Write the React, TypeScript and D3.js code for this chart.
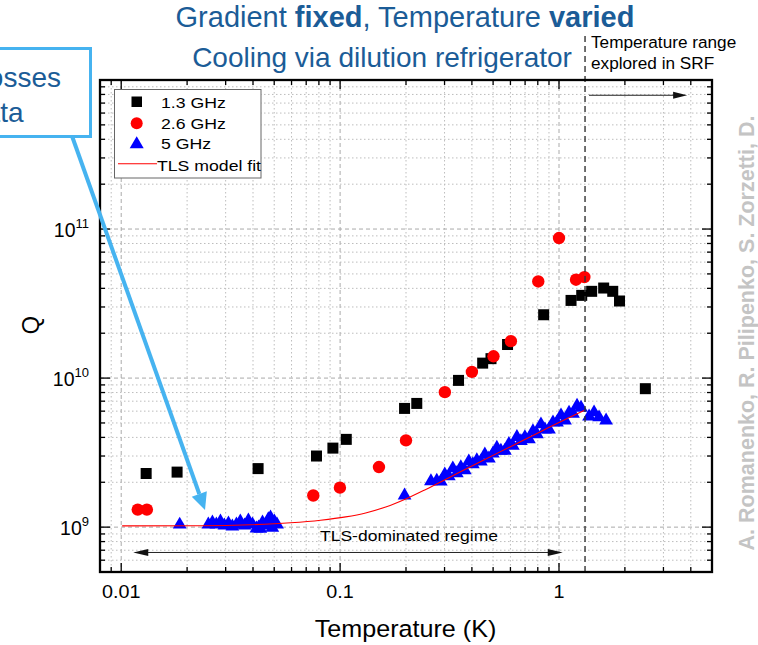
import React from 'react';
import * as d3 from 'd3';

const W = 758;
const H = 645;

// ---- data (Temperature in K, Q) ----
const series13GHz: [number, number][] = [
  [0.013, 2.29e9], [0.018, 2.34e9], [0.0422, 2.47e9], [0.078, 3.0e9], [0.0927, 3.39e9],
  [0.1067, 3.88e9], [0.197, 6.26e9], [0.224, 6.76e9], [0.3475, 9.65e9], [0.448, 1.26e10],
  [0.489, 1.35e10], [0.582, 1.68e10], [0.851, 2.66e10], [1.135, 3.32e10], [1.27, 3.59e10],
  [1.41, 3.82e10], [1.6, 4.02e10], [1.76, 3.82e10], [1.89, 3.29e10], [2.48, 8.49e9],
];

const series26GHz: [number, number][] = [
  [0.0119, 1.31e9], [0.0131, 1.31e9], [0.0754, 1.63e9], [0.0998, 1.84e9], [0.1505, 2.53e9],
  [0.2, 3.82e9], [0.301, 8.05e9], [0.4, 1.1e10], [0.502, 1.4e10], [0.603, 1.77e10],
  [0.804, 4.45e10], [1.0, 8.7e10], [1.196, 4.57e10], [1.306, 4.76e10],
];

const series5GHz: [number, number][] = [
  [0.0185, 1.04e9],
  [0.025, 1.043e9], [0.0261, 1.075e9], [0.0272, 1.043e9], [0.0284, 1.092e9], [0.0296, 1.027e9],
  [0.0309, 1.059e9], [0.0322, 1.011e9], [0.0336, 1.043e9], [0.035, 1.092e9], [0.0366, 1.027e9],
  [0.0381, 1.109e9], [0.0398, 1.043e9], [0.0415, 0.98e9], [0.0424, 0.995e9], [0.0432, 0.975e9],
  [0.0442, 1.075e9], [0.0461, 1.027e9], [0.047, 1.13e9], [0.0481, 1.162e9], [0.049, 0.99e9],
  [0.0501, 1.092e9], [0.0515, 1.043e9],
  [0.197, 1.632e9], [0.26, 2.03e9],
  [0.2764, 2.048e9], [0.2884, 2.02e9], [0.3008, 2.254e9], [0.3138, 2.19e9], [0.3273, 2.48e9],
  [0.3413, 2.297e9], [0.356, 2.52e9], [0.3713, 2.405e9], [0.3873, 2.764e9], [0.404, 2.64e9],
  [0.4213, 2.808e9], [0.4395, 2.76e9], [0.4584, 3.07e9], [0.4781, 2.886e9], [0.4987, 3.113e9],
  [0.5201, 3.41e9], [0.5426, 3.257e9], [0.5659, 3.252e9], [0.5903, 3.617e9], [0.6157, 3.508e9],
  [0.6422, 4.024e9], [0.6698, 3.777e9], [0.6986, 4.018e9], [0.7287, 3.89e9], [0.7603, 4.395e9],
  [0.7929, 4.196e9], [0.8271, 4.89e9], [0.8627, 4.525e9], [0.8998, 4.525e9], [0.9387, 5.043e9],
  [0.979, 5.04e9], [1.0214, 5.62e9], [1.0653, 5.193e9], [1.1112, 5.87e9], [1.1589, 5.77e9],
  [1.2088, 6.53e9], [1.261, 6.32e9], [1.372, 5.53e9], [1.446, 5.89e9], [1.524, 5.45e9],
  [1.641, 5.2e9],
];

const tlsFit: [number, number][] = [
  [0.0101, 1.019e9], [0.023, 1.022e9], [0.03894, 1.038e9], [0.05935, 1.07e9], [0.08143, 1.113e9],
  [0.106, 1.171e9], [0.1308, 1.245e9], [0.1616, 1.366e9], [0.1994, 1.546e9], [0.2462, 1.791e9],
  [0.3204, 2.18e9], [0.4395, 2.76e9], [0.603, 3.48e9], [0.8271, 4.388e9], [1.0214, 5.122e9],
  [1.3014, 6.07e9],
];

const xTickLabels: [number, string][] = [[0.01, '0.01'], [0.1, '0.1'], [1, '1']];
const yTickLabels: [number, string][] = [[1e9, '9'], [1e10, '10'], [1e11, '11']];
const legendItems = ['1.3 GHz', '2.6 GHz', '5 GHz', 'TLS model fit'];

// annotation anchors (data coords)
const srfTemperature = 1.315;
const srfArrowEnd = 3.85;
const srfArrowQ = 7.9e11;
const regimeStart = 0.01135;
const regimeEnd = 1.04;
const regimeQ = 6.76e8;

const FONT = '"Liberation Sans", Arial, Helvetica, sans-serif';
const TITLE_BLUE = '#1b5c97';
const CALLOUT_BLUE = '#46b3f0';

function SText(props: {
  x: number; y: number; size: number; sx?: number; anchor?: string; fill?: string; weight?: string | number;
  children: React.ReactNode;
}) {
  const { x, y, size, sx = 1.13, anchor = 'start', fill = '#000', weight = 'normal', children } = props;
  return (
    <text
      transform={`translate(${x},${y}) scale(${sx},1)`}
      fontSize={size}
      textAnchor={anchor as any}
      fill={fill}
      fontWeight={weight as any}
      fontFamily={FONT}
    >
      {children}
    </text>
  );
}

export default function App() {
  const x = d3.scaleLog().domain([0.008, 5]).range([100, 712]);
  const y = d3.scaleLog().domain([5e8, 1e12]).range([572, 80]);
  const [x0, x1] = x.range();
  const [yb, yt] = y.range();

  const xGrid: { v: number; major: boolean }[] = [];
  for (let e = -3; e <= 0; e++) {
    for (let k = 1; k <= 9; k++) {
      const v = +`${k}e${e}`;
      if (v > 0.008 * 1.001 && v < 5 * 0.999) xGrid.push({ v, major: k === 1 });
    }
  }
  const yGrid: { v: number; major: boolean }[] = [];
  for (let e = 8; e <= 11; e++) {
    for (let k = 1; k <= 9; k++) {
      const v = +`${k}e${e}`;
      if (v > 5e8 * 1.001 && v < 1e12 * 0.999) yGrid.push({ v, major: k === 1 });
    }
  }

  const fitPath = d3
    .line<[number, number]>()
    .x((d) => x(d[0]))
    .y((d) => y(d[1]))
    .curve(d3.curveMonotoneX)(tlsFit) as string;

  const tri = d3.symbol().type(d3.symbolTriangle).size(82)() as string;
  const triLegend = d3.symbol().type(d3.symbolTriangle).size(85)() as string;

  // annotation geometry
  const vx = x(srfTemperature);
  const srfY = y(srfArrowQ);
  const srfX0 = vx + 4;
  const srfX1 = x(srfArrowEnd);
  const rY = y(regimeQ);
  const rX0 = x(regimeStart);
  const rX1 = x(regimeEnd);

  // callout arrow
  const cA = { x: 72, y: 136 };
  const cB = { x: 205, y: 510 };
  const ang = Math.atan2(cB.y - cA.y, cB.x - cA.x);
  const headL = 17;
  const headW = 8;
  const bx = cB.x - headL * Math.cos(ang);
  const by = cB.y - headL * Math.sin(ang);
  const px = -Math.sin(ang) * headW;
  const py = Math.cos(ang) * headW;

  return (
    <div style={{ position: 'absolute', left: 0, top: 0, width: W, height: H }}>
      <svg width={W} height={H} viewBox={`0 0 ${W} ${H}`} style={{ display: 'block', background: '#fff' }}>
        <rect x={0} y={0} width={W} height={H} fill="#fff" />

        {/* grid */}
        <g>
          {xGrid.map((g, i) => (
            <line
              key={`gx${i}`}
              x1={x(g.v)}
              x2={x(g.v)}
              y1={yt}
              y2={yb}
              stroke={g.major ? '#aaaaaa' : '#bdbdbd'}
              strokeWidth={1}
              strokeDasharray={g.major ? '4,3' : '1.5,2.5'}
            />
          ))}
          {yGrid.map((g, i) => (
            <line
              key={`gy${i}`}
              x1={x0}
              x2={x1}
              y1={y(g.v)}
              y2={y(g.v)}
              stroke={g.major ? '#aaaaaa' : '#bdbdbd'}
              strokeWidth={1}
              strokeDasharray={g.major ? '4,3' : '1.5,2.5'}
            />
          ))}
        </g>

        {/* data */}
        <g>
          {series13GHz.map((d, i) => (
            <rect key={`s${i}`} x={x(d[0]) - 5.5} y={y(d[1]) - 5.5} width={11} height={11} fill="#000" />
          ))}
          {series26GHz.map((d, i) => (
            <circle key={`c${i}`} cx={x(d[0])} cy={y(d[1])} r={6.2} fill="#ff0000" />
          ))}
          {series5GHz.map((d, i) => (
            <path key={`t${i}`} d={tri} transform={`translate(${x(d[0])},${y(d[1])})`} fill="#0000ff" />
          ))}
          <path d={fitPath} fill="none" stroke="#ff0000" strokeWidth={1.1} />
        </g>

        {/* SRF dashed line */}
        <line x1={vx} x2={vx} y1={36} y2={yb} stroke="#333" strokeWidth={1.4} strokeDasharray="6,4" />

        {/* legend */}
        <g>
          <rect x={114.5} y={89.5} width={146.5} height={88.5} fill="#fff" stroke="#666" strokeWidth={1} />
          <rect x={131.5} y={96.5} width={10.5} height={10.5} fill="#000" />
          <circle cx={136.7} cy={123.3} r={6} fill="#ff0000" />
          <path d={triLegend} transform="translate(136.7,144.3)" fill="#0000ff" />
          <line x1={118} x2={157} y1={163.7} y2={163.7} stroke="#ff0000" strokeWidth={1.1} />
          <SText x={161} y={107.7} size={15.5} sx={1.14}>{legendItems[0]}</SText>
          <SText x={161} y={128.5} size={15.5} sx={1.14}>{legendItems[1]}</SText>
          <SText x={161} y={149.3} size={15.5} sx={1.14}>{legendItems[2]}</SText>
          <SText x={157} y={170.7} size={15.5} sx={1.14}>{legendItems[3]}</SText>
        </g>

        {/* ticks */}
        <g stroke="#000" strokeWidth={1.3}>
          {xGrid.map((g, i) => {
            const L = g.major ? 9 : 5;
            const xx = x(g.v);
            return (
              <g key={`tx${i}`}>
                <line x1={xx} x2={xx} y1={yb} y2={yb - L} />
                <line x1={xx} x2={xx} y1={yt} y2={yt + L} />
              </g>
            );
          })}
          {yGrid.map((g, i) => {
            const L = g.major ? 10 : 5;
            const yy = y(g.v);
            return (
              <g key={`ty${i}`}>
                <line x1={x0} x2={x0 + L} y1={yy} y2={yy} />
                <line x1={x1} x2={x1 - L} y1={yy} y2={yy} />
              </g>
            );
          })}
        </g>
        {/* frame */}
        <rect x={x0} y={yt} width={x1 - x0} height={yb - yt} fill="none" stroke="#000" strokeWidth={2.3} />

        {/* tick labels */}
        {xTickLabels.map(([v, s]) => (
          <SText key={`xl${s}`} x={x(v)} y={598} size={17.5} sx={1.13} anchor="middle">{s}</SText>
        ))}
        {yTickLabels.map(([v, s]) => (
          <text key={`yl${s}`} x={89} y={y(v) + 7.5} fontSize={19.5} textAnchor="end" fontFamily={FONT} fill="#000">
            <tspan>10</tspan>
            <tspan dy={-9} fontSize={13}>{s}</tspan>
          </text>
        ))}

        {/* axis titles */}
        <SText x={405.5} y={637} size={23.5} sx={1.07} anchor="middle">Temperature (K)</SText>
        <text transform="translate(39,325) rotate(-90)" fontSize={23.5} textAnchor="middle" fontFamily={FONT} fill="#000">Q</text>

        {/* TLS-dominated regime */}
        <SText x={409} y={540.7} size={15.5} sx={1.13} anchor="middle">TLS-dominated regime</SText>
        <line x1={rX0 + 12} x2={rX1 - 12} y1={rY} y2={rY} stroke="#222" strokeWidth={1} />
        <path d={`M${rX0},${rY} L${rX0 + 15},${rY - 3.5} L${rX0 + 15},${rY + 3.5} Z`} fill="#111" />
        <path d={`M${rX1},${rY} L${rX1 - 15},${rY - 3.5} L${rX1 - 15},${rY + 3.5} Z`} fill="#111" />

        {/* SRF annotation */}
        <text x={591} y={48.3} fontSize={17.2} fontFamily={FONT} fill="#000">Temperature range</text>
        <text x={591} y={69.3} fontSize={17.2} fontFamily={FONT} fill="#000">explored in SRF</text>
        <line x1={srfX0} x2={srfX1 - 12} y1={srfY} y2={srfY} stroke="#222" strokeWidth={1} />
        <path d={`M${srfX1},${srfY} L${srfX1 - 14},${srfY - 3.5} L${srfX1 - 14},${srfY + 3.5} Z`} fill="#111" />

        {/* title */}
        <text x={405} y={27} fontSize={29} textAnchor="middle" fontFamily={FONT} fill={TITLE_BLUE}>
          Gradient <tspan fontWeight="bold">fixed</tspan>, Temperature <tspan fontWeight="bold">varied</tspan>
        </text>
        <text x={382} y={67} fontSize={28} textAnchor="middle" fontFamily={FONT} fill={TITLE_BLUE}>
          Cooling via dilution refrigerator
        </text>

        {/* side credit */}
        <text
          transform="translate(754,333) rotate(-90)"
          fontSize={21.5}
          fontWeight="bold"
          textAnchor="middle"
          fontFamily={FONT}
          fill="#c4c4c4"
        >
          A. Romanenko, R. Pilipenko, S. Zorzetti, D.
        </text>

        {/* callout */}
        <rect x={-20} y={48.5} width={110.5} height={88} fill="#fff" stroke={CALLOUT_BLUE} strokeWidth={3} />
        <text x={61} y={87.3} fontSize={28} textAnchor="end" fontFamily={FONT} fill={TITLE_BLUE}>losses</text>
        <text x={23.5} y={121.7} fontSize={28} textAnchor="end" fontFamily={FONT} fill={TITLE_BLUE}>data</text>
        <line x1={cA.x} y1={cA.y} x2={bx} y2={by} stroke={CALLOUT_BLUE} strokeWidth={4} />
        <path d={`M${cB.x},${cB.y} L${bx + px},${by + py} L${bx - px},${by - py} Z`} fill={CALLOUT_BLUE} />
      </svg>
    </div>
  );
}
